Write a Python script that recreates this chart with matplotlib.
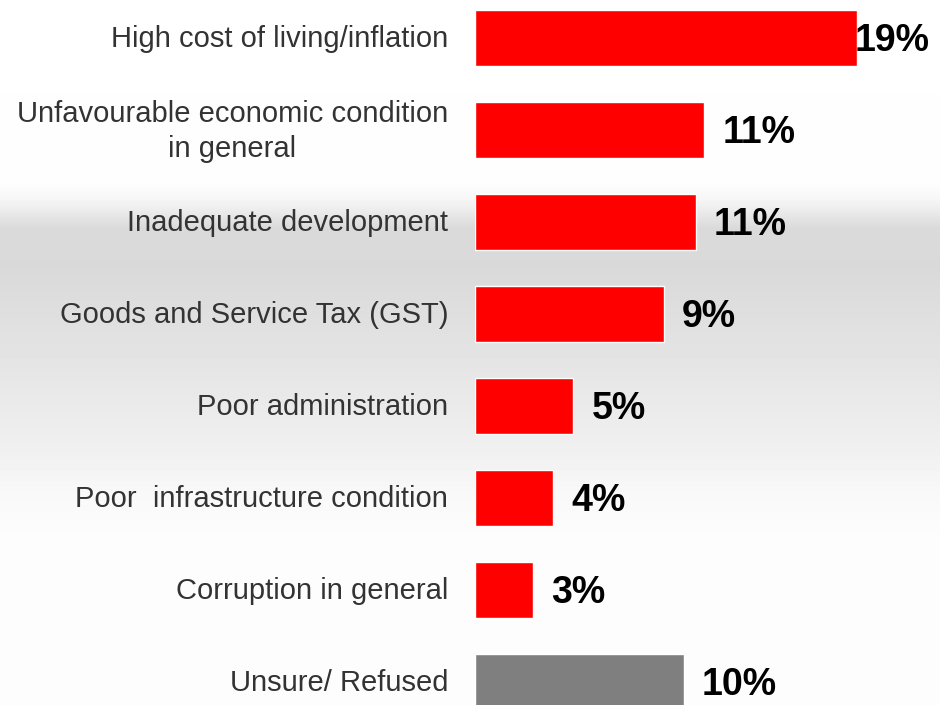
import numpy as np
import matplotlib
matplotlib.use("Agg")
import matplotlib.pyplot as plt

categories = ["High cost of living/inflation",
              "Unfavourable economic condition\nin general",
              "Inadequate development",
              "Goods and Service Tax (GST)",
              "Poor administration",
              "Poor  infrastructure condition",
              "Corruption in general",
              "Unsure/ Refused"]
values = [19.0, 11.4, 11.0, 9.4, 4.9, 3.9, 2.9, 10.4]
labels = ["19%", "11%", "11%", "9%", "5%", "4%", "3%", "10%"]
colors = ["#ff0000"] * 7 + ["#7f7f7f"]

plt.rcParams["font.family"] = ["Liberation Sans", "DejaVu Sans"]

fig = plt.figure(figsize=(9.4, 7.05), dpi=100)

# background gradient (white -> grey band -> white)
bg = fig.add_axes([0, 0, 1, 1])
stops_y = [0, 185, 200, 228, 265, 350, 450, 490, 530, 705]
stops_g = [255, 253, 245, 218, 217, 227, 240, 248, 252, 253]
ys = np.arange(705)
g = np.interp(ys, stops_y, stops_g) / 255.0
img = np.repeat(g[:, None], 2, axis=1)
bg.imshow(img, cmap="gray", vmin=0, vmax=1, aspect="auto", extent=[0, 1, 1, 0])
bg.set_xlim(0, 1)
bg.set_ylim(1, 0)
bg.axis("off")

ax = fig.add_axes([475 / 940, 0, 1 - 475 / 940, 1])
ax.patch.set_alpha(0)
y = np.arange(len(values))
ax.barh(y, values, height=0.6, color=colors, edgecolor="white", linewidth=1)
ax.set_xlim(0, (940 - 475) / 20.1)
ax.set_ylim(7.25, -0.413)
ax.axis("off")

for i, (v, lab) in enumerate(zip(values, labels)):
    off = -2 if i == 0 else 18
    ax.annotate(lab, (v, i), xytext=(off * 0.72, -2.5), textcoords="offset points",
                ha="left", va="center", fontsize=27, fontweight="bold", color="black")

for i, cat in enumerate(categories):
    ax.annotate(cat, (0, i), xytext=(-27 * 0.72, -1), textcoords="offset points",
                ha="right", va="center", multialignment="center",
                fontsize=21, color="#333333", annotation_clip=False, linespacing=1.3)

fig.savefig("out.png", dpi=100)
